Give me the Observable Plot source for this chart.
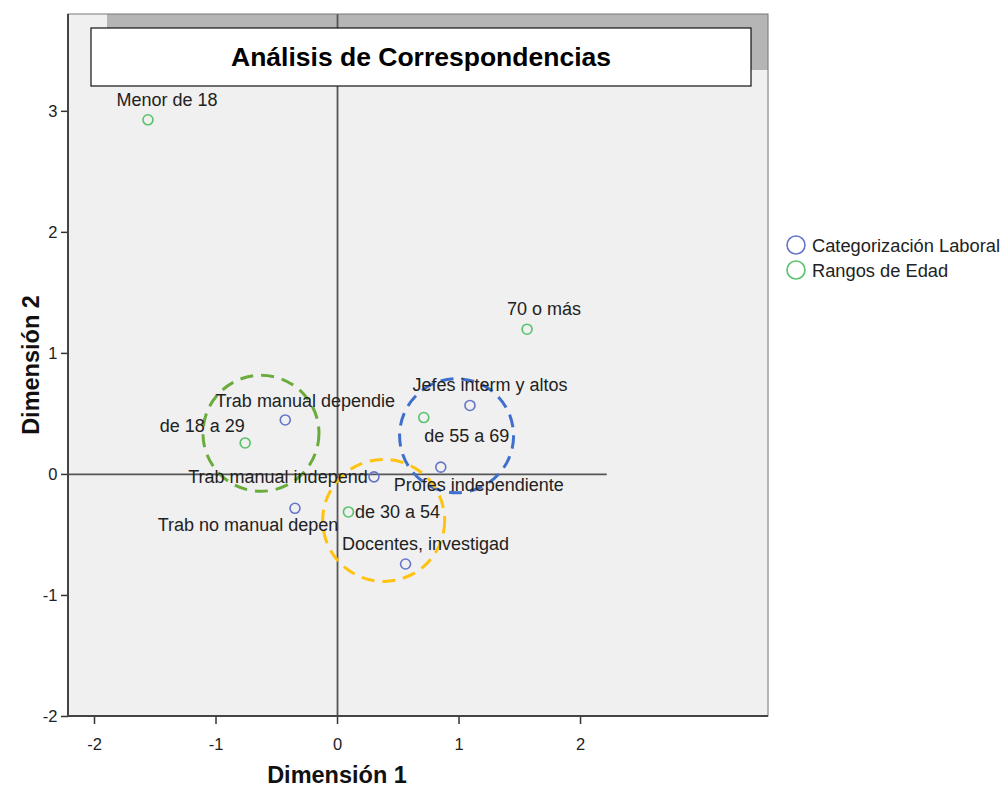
<!DOCTYPE html>
<html>
<head>
<meta charset="utf-8">
<script src="https://cdn.jsdelivr.net/npm/d3@7"></script>
<script src="https://cdn.jsdelivr.net/npm/@observablehq/plot@0.6"></script>
<style>
  html, body { margin: 0; padding: 0; background: #ffffff; }
  #chart svg { display: block; font-family: Arial, "Liberation Sans", sans-serif; }
</style>
</head>
<body>
<div id="chart"></div>
<script>
// ---- Data ----
const labCategories = ["Trab manual dependie", "Trab manual independ", "Trab no manual depen", "Jefes interm y altos", "Profes independiente", "Docentes, investigad"];
const labDim1 = [-0.43, 0.30, -0.35, 1.09, 0.85, 0.56];
const labDim2 = [0.45, -0.02, -0.28, 0.57, 0.06, -0.74];

const ageCategories = ["Menor de 18", "de 18 a 29", "de 30 a 54", "de 55 a 69", "70 o más"];
const ageDim1 = [-1.56, -0.76, 0.09, 0.71, 1.56];
const ageDim2 = [2.93, 0.26, -0.31, 0.47, 1.20];

const seriesNames = ["Categorización Laboral", "Rangos de Edad"];
const xTicks = [-2, -1, 0, 1, 2];
const yTicks = [-2, -1, 0, 1, 2, 3];

// hand-drawn highlight circles (centre in dimension units)
const highlightX = [-0.63, 0.98, 0.38];
const highlightY = [0.34, 0.32, -0.38];

// ---- Layout / style (not data) ----
const xDomain = [-2.214, 3.547];
const yDomain = [-2.0, 3.80];
const hRuleExtent = [-2.214, 2.22];
const seriesColors = ["#6675c9", "#58c26c"];
const highlightColors = ["#6aab3c", "#3f6fcc", "#ffc20e"];
const highlightRadius = [58, 57, 61];
const labelOffset = {
  "Trab manual dependie": [20, -19],
  "Trab manual independ": [-96, 0],
  "Trab no manual depen": [-47, 17],
  "Jefes interm y altos": [20, -20],
  "Profes independiente": [38, 18],
  "Docentes, investigad": [20, -20],
  "Menor de 18": [19, -20],
  "de 18 a 29": [-43, -17],
  "de 30 a 54": [49, 0],
  "de 55 a 69": [43, 19],
  "70 o más": [17, -20]
};

const rows = [
  ...labCategories.map((name, i) => ({name, d1: labDim1[i], d2: labDim2[i], series: seriesNames[0]})),
  ...ageCategories.map((name, i) => ({name, d1: ageDim1[i], d2: ageDim2[i], series: seriesNames[1]}))
];
const highlights = highlightX.map((x, i) => ({x, y: highlightY[i], color: highlightColors[i], r: highlightRadius[i]}));

const W = 1002, H = 787;
const mL = 68, mR = 234, mT = 14, mB = 71;
const fmt = d => String(d);

const plot = Plot.plot({
  width: W,
  height: H,
  marginLeft: mL,
  marginRight: mR,
  marginTop: mT,
  marginBottom: mB,
  style: {background: "transparent", fontFamily: "Arial, 'Liberation Sans', sans-serif"},
  x: {domain: xDomain, label: null},
  y: {domain: yDomain, label: null},
  color: {domain: seriesNames, range: seriesColors},
  marks: [
    Plot.frame({fill: "#f0f0f0", stroke: null}),
    Plot.axisX({ticks: xTicks, tickFormat: fmt, tickSize: 8, tickPadding: 14, fontSize: 16.5, label: null, stroke: "#333", strokeWidth: 1.5, color: "#222"}),
    Plot.axisY({ticks: yTicks, tickFormat: fmt, tickSize: 7, tickPadding: 4, fontSize: 16.5, label: null, stroke: "#333", strokeWidth: 1.5, color: "#222"}),
    Plot.ruleY([0], {x1: hRuleExtent[0], x2: hRuleExtent[1], stroke: "#555", strokeWidth: 1.8}),
    Plot.ruleX([0], {stroke: "#555", strokeWidth: 1.8}),
    ...highlights.map(h => Plot.dot([h], {x: "x", y: "y", r: h.r, stroke: h.color, strokeWidth: 3, strokeDasharray: "13,8", fill: "none"})),
    Plot.dot(rows, {x: "d1", y: "d2", stroke: "series", r: 5, strokeWidth: 1.6, fill: "none"}),
    ...rows.map(r => Plot.text([r], {x: "d1", y: "d2", text: "name", dx: labelOffset[r.name][0], dy: labelOffset[r.name][1], fontSize: 18, fill: "#222", textAnchor: "middle", lineAnchor: "middle"}))
  ]
});

const svg = d3.select(plot);
const xs = plot.scale("x");
const frameRight = W - mR, frameBottom = H - mB;

// grey shadow behind title box (inserted after the frame background)
const firstMark = plot.querySelector("[aria-label='frame']");
const shadow = document.createElementNS("http://www.w3.org/2000/svg", "rect");
shadow.setAttribute("x", 107); shadow.setAttribute("y", mT);
shadow.setAttribute("width", frameRight - 107); shadow.setAttribute("height", 56);
shadow.setAttribute("fill", "#b5b5b5");
firstMark.after(shadow);

// frame border
svg.append("rect").attr("x", mL).attr("y", mT).attr("width", frameRight - mL).attr("height", frameBottom - mT)
  .attr("fill", "none").attr("stroke", "#777").attr("stroke-width", 1);
svg.append("line").attr("x1", mL).attr("x2", mL).attr("y1", mT).attr("y2", frameBottom).attr("stroke", "#444").attr("stroke-width", 2);
svg.append("line").attr("x1", mL).attr("x2", frameRight).attr("y1", frameBottom).attr("y2", frameBottom).attr("stroke", "#444").attr("stroke-width", 2);

// title box
svg.append("rect").attr("x", 91).attr("y", 28).attr("width", 660).attr("height", 58)
  .attr("fill", "#ffffff").attr("stroke", "#111").attr("stroke-width", 1.2);
svg.append("text").attr("x", 421).attr("y", 57).attr("text-anchor", "middle").attr("dominant-baseline", "central")
  .attr("font-size", 26.5).attr("font-weight", "bold").attr("fill", "#000").text("Análisis de Correspondencias");

// axis titles
svg.append("text").attr("x", xs.apply(0)).attr("y", 775).attr("text-anchor", "middle").attr("dominant-baseline", "central")
  .attr("font-size", 23.5).attr("font-weight", "bold").attr("fill", "#111").text("Dimensión 1");
svg.append("text").attr("transform", `translate(31,${(mT + frameBottom) / 2}) rotate(-90)`).attr("text-anchor", "middle").attr("dominant-baseline", "central")
  .attr("font-size", 23.5).attr("font-weight", "bold").attr("fill", "#111").text("Dimensión 2");

// legend
const lg = svg.append("g").attr("text-anchor", "start");
seriesNames.forEach((name, i) => {
  const cy = 245 + i * 25;
  lg.append("circle").attr("cx", 796).attr("cy", cy).attr("r", 9).attr("fill", "none").attr("stroke", seriesColors[i]).attr("stroke-width", 1.6);
  lg.append("text").attr("x", 812).attr("y", cy).attr("text-anchor", "start").attr("dominant-baseline", "central").attr("font-size", 18.3).attr("fill", "#222").text(name);
});

document.getElementById("chart").appendChild(plot);
</script>
</body>
</html>
